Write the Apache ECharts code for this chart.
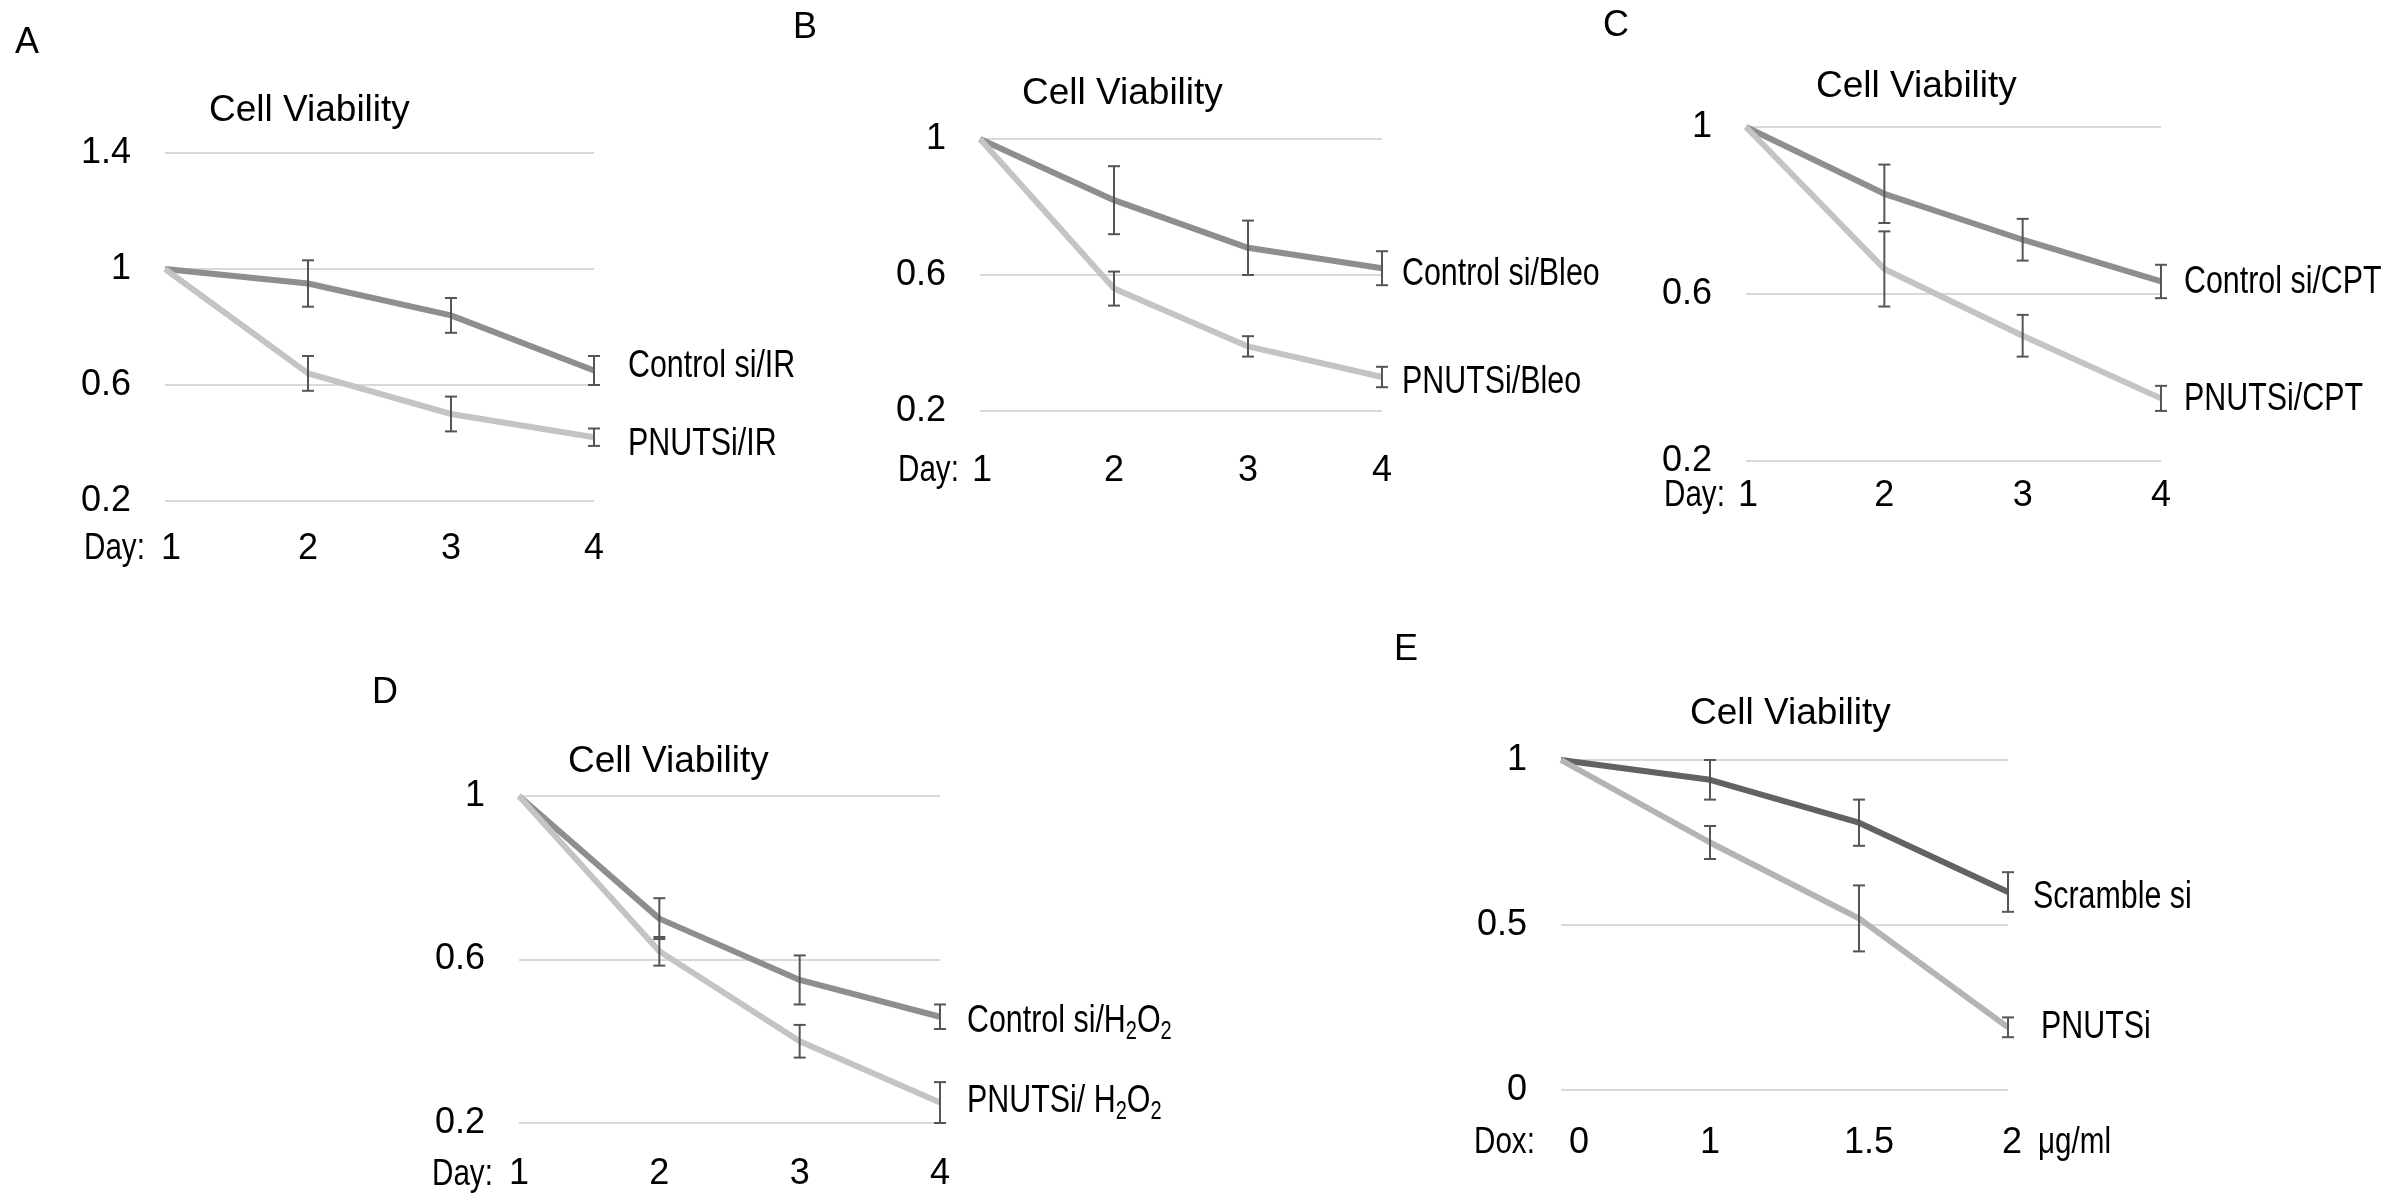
<!DOCTYPE html>
<html>
<head>
<meta charset="utf-8">
<script src="https://cdn.jsdelivr.net/npm/echarts@6/dist/echarts.min.js"></script>
<style>
  html, body { margin: 0; padding: 0; background: #fff; }
  #chart { width: 2382px; height: 1197px; }
</style>
</head>
<body>
<div id="chart"></div>
<script>
// categories
const days = ['1', '2', '3', '4'];
const doses = ['0', '1', '1.5', '2'];

// A - IR
const ctrlA = [1, 0.95, 0.84, 0.65];
const ctrlAErr = [0, 0.08, 0.06, 0.05];
const pnutsA = [1, 0.64, 0.50, 0.42];
const pnutsAErr = [0, 0.06, 0.06, 0.03];
// B - Bleo
const ctrlB = [1, 0.82, 0.68, 0.62];
const ctrlBErr = [0, 0.10, 0.08, 0.05];
const pnutsB = [1, 0.56, 0.39, 0.30];
const pnutsBErr = [0, 0.05, 0.03, 0.03];
// C - CPT
const ctrlC = [1, 0.84, 0.73, 0.63];
const ctrlCErr = [0, 0.07, 0.05, 0.04];
const pnutsC = [1, 0.66, 0.50, 0.35];
const pnutsCErr = [0, 0.09, 0.05, 0.03];
// D - H2O2
const ctrlD = [1, 0.70, 0.55, 0.46];
const ctrlDErr = [0, 0.05, 0.06, 0.03];
const pnutsD = [1, 0.62, 0.40, 0.25];
const pnutsDErr = [0, 0.035, 0.04, 0.05];
// E - Dox
const scrambleE = [1, 0.94, 0.81, 0.60];
const scrambleEErr = [0, 0.06, 0.07, 0.06];
const pnutsE = [1, 0.75, 0.52, 0.19];
const pnutsEErr = [0, 0.05, 0.10, 0.03];

// y axis ticks
const yTicksA = [0.2, 0.6, 1, 1.4];
const yTicksBCD = [0.2, 0.6, 1];
const yTicksE = [0, 0.5, 1];

const REG = "'Liberation Sans', Arial, sans-serif";
const NARROW_SCALE = 0.8; // no narrow face installed, squeeze the regular one

const panels = [
  { grid: {left: 165, top: 153, width: 429, height: 348}, cats: days, ticks: yTicksA, xMargin: 30,
    xShift: [6, 0, 0, 0],
    c: ctrlA, ce: ctrlAErr, p: pnutsA, pe: pnutsAErr, cCol: '#8e8e8e', pCol: '#c4c4c4',
    cLab: 'Control si/IR', pLab: 'PNUTSi/IR', cOff: [34, -4], pOff: [34, 7] },
  { grid: {left: 980, top: 139, width: 402, height: 272}, cats: days, ticks: yTicksBCD, xMargin: 42,
    xShift: [2, 0, 0, 0],
    c: ctrlB, ce: ctrlBErr, p: pnutsB, pe: pnutsBErr, cCol: '#8e8e8e', pCol: '#c4c4c4',
    cLab: 'Control si/Bleo', pLab: 'PNUTSi/Bleo', cOff: [20, 6], pOff: [20, 6] },
  { grid: {left: 1746, top: 127, width: 415, height: 334}, cats: days, ticks: yTicksBCD, xMargin: 17,
    xShift: [2, 0, 0, 0],
    c: ctrlC, ce: ctrlCErr, p: pnutsC, pe: pnutsCErr, cCol: '#8e8e8e', pCol: '#c4c4c4',
    cLab: 'Control si/CPT', pLab: 'PNUTSi/CPT', cOff: [23, 1], pOff: [23, 1] },
  { grid: {left: 519, top: 796, width: 421, height: 327}, cats: days, ticks: yTicksBCD, xMargin: 33,
    xShift: [0, 0, 0, 0],
    c: ctrlD, ce: ctrlDErr, p: pnutsD, pe: pnutsDErr, cCol: '#8e8e8e', pCol: '#c4c4c4',
    cLab: '{n|Control si/H}{s|2}{n|O}{s|2}', pLab: '{n|PNUTSi/ H}{s|2}{n|O}{s|2}', cOff: [27, 5], pOff: [27, -1] },
  { grid: {left: 1561, top: 760, width: 447, height: 330}, cats: doses, ticks: yTicksE, xMargin: 35,
    xShift: [18, 0, 10, 4],
    c: scrambleE, ce: scrambleEErr, p: pnutsE, pe: pnutsEErr, cCol: '#626262', pCol: '#b4b4b4',
    cLab: 'Scramble si', pLab: 'PNUTSi', cOff: [25, 6], pOff: [33, 0] }
];

function errData(vals, errs) {
  const out = [];
  vals.forEach((v, i) => { if (errs[i] > 0) out.push([i, v - errs[i], v + errs[i]]); });
  return out;
}

function renderErr(params, api) {
  const x = api.value(0);
  const top = api.coord([x, api.value(2)]);
  const bot = api.coord([x, api.value(1)]);
  const w = 6;
  const st = { stroke: '#555555', lineWidth: 2 };
  return {
    type: 'group',
    children: [
      { type: 'line', shape: { x1: top[0], y1: top[1], x2: bot[0], y2: bot[1] }, style: st },
      { type: 'line', shape: { x1: top[0] - w, y1: top[1], x2: top[0] + w, y2: top[1] }, style: st },
      { type: 'line', shape: { x1: bot[0] - w, y1: bot[1], x2: bot[0] + w, y2: bot[1] }, style: st }
    ]
  };
}

const labelRich = {
  n: { fontSize: 38, fontFamily: REG, fill: '#000', lineHeight: 46 },
  s: { fontSize: 25, fontFamily: REG, fill: '#000', lineHeight: 25, verticalAlign: 'bottom' }
};

// series names at the end of each line
function makeLabelRenderer(pn) {
  return function (params, api) {
    const pt = api.coord([api.value(0), api.value(1)]);
    const first = params.dataIndex === 0;
    const off = first ? pn.cOff : pn.pOff;
    return {
      type: 'text', x: pt[0] + off[0], y: pt[1] + off[1], scaleX: NARROW_SCALE,
      style: { text: first ? pn.cLab : pn.pLab, fontSize: 38, fontFamily: REG, fill: '#000',
        align: 'left', verticalAlign: 'middle', rich: labelRich }
    };
  };
}

const grids = [], xAxes = [], yAxes = [], series = [];
panels.forEach((pn, i) => {
  grids.push(pn.grid);
  const rich = {};
  pn.xShift.forEach((s, k) => { rich['k' + k] = { padding: [0, 0, 0, 2 * s] }; });
  xAxes.push({
    gridIndex: i, type: 'category', data: pn.cats, boundaryGap: false,
    axisLine: { show: false }, axisTick: { show: false },
    axisLabel: { interval: 0, hideOverlap: false, margin: pn.xMargin, fontSize: 36, lineHeight: 36,
      fontFamily: REG, color: '#000',
      rich: rich, formatter: (v, k) => pn.xShift[k] ? '{k' + k + '|' + v + '}' : v }
  });
  const t = pn.ticks;
  yAxes.push({
    gridIndex: i, type: 'value', min: t[0], max: t[t.length - 1], interval: t[1] - t[0],
    axisLine: { show: false }, axisTick: { show: false },
    splitLine: { lineStyle: { color: '#d9d9d9', width: 2 } },
    axisLabel: { margin: 34, fontSize: 36, fontFamily: REG, color: '#000',
      formatter: v => String(+v.toFixed(2)) }
  });
  series.push({
    type: 'line', xAxisIndex: i, yAxisIndex: i, data: pn.c, showSymbol: false, symbol: 'none',
    lineStyle: { color: pn.cCol, width: 6 }, itemStyle: { color: pn.cCol }, z: 2
  });
  series.push({
    type: 'line', xAxisIndex: i, yAxisIndex: i, data: pn.p, showSymbol: false, symbol: 'none',
    lineStyle: { color: pn.pCol, width: 6 }, itemStyle: { color: pn.pCol }, z: 2
  });
  series.push({
    type: 'custom', xAxisIndex: i, yAxisIndex: i, renderItem: renderErr, z: 5,
    data: errData(pn.c, pn.ce).concat(errData(pn.p, pn.pe))
  });
  const last = pn.c.length - 1;
  series.push({
    type: 'custom', xAxisIndex: i, yAxisIndex: i, renderItem: makeLabelRenderer(pn), z: 6,
    clip: false, data: [[last, pn.c[last]], [last, pn.p[last]]]
  });
});

function txt(text, x, y, size, narrow) {
  return { type: 'text', x: x, y: y, scaleX: narrow ? NARROW_SCALE : 1, style: {
    text: text, fontSize: size, fontFamily: REG, fill: '#000', verticalAlign: 'middle', align: 'left' } };
}

const graphics = [
  txt('A', 15, 43, 36), txt('B', 793, 28, 36), txt('C', 1603, 26, 36),
  txt('D', 372, 693, 36), txt('E', 1394, 650, 36),
  txt('Cell Viability', 209, 111, 37), txt('Cell Viability', 1022, 94, 37),
  txt('Cell Viability', 1816, 87, 37), txt('Cell Viability', 568, 762, 37),
  txt('Cell Viability', 1690, 714, 37),
  txt('Day:', 84, 549, 37, true), txt('Day:', 898, 471, 37, true),
  txt('Day:', 1664, 496, 37, true), txt('Day:', 432, 1175, 37, true),
  txt('Dox:', 1474, 1143, 37, true), txt('μg/ml', 2038, 1143, 37, true)
];

const chart = echarts.init(document.getElementById('chart'));
chart.setOption({
  backgroundColor: '#fff',
  animation: false,
  grid: grids,
  xAxis: xAxes,
  yAxis: yAxes,
  series: series,
  graphic: graphics
});
</script>
</body>
</html>
